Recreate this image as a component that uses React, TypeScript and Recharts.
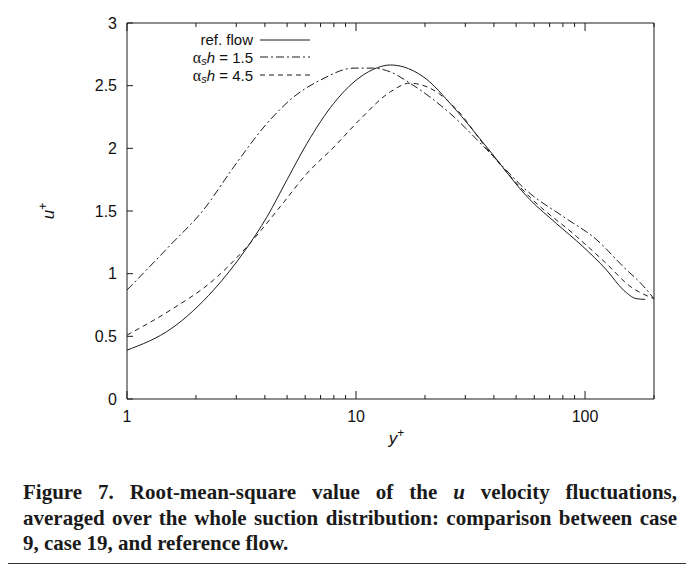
import React from 'react';
import { LineChart, Line, XAxis, YAxis, Legend } from 'recharts';

// y+ positions and u+ values
const refFlowY = [1, 1.57, 2.39, 3.29, 4.09, 5.0, 6.11, 8.0, 9.8, 11.9, 14.1, 16.1, 19.7, 26.6, 37.2, 57.5, 75, 98, 124, 147, 168, 183];
const refFlowU = [0.39, 0.565, 0.87, 1.19, 1.455, 1.75, 2.04, 2.36, 2.53, 2.63, 2.665, 2.65, 2.57, 2.33, 2.01, 1.59, 1.4, 1.215, 1.03, 0.87, 0.8, 0.795];

const alpha15Y = [1, 1.55, 2.16, 2.92, 4.09, 5.34, 7.0, 9.8, 11.9, 14.1, 17.2, 25.7, 37.2, 57.5, 80.4, 112.5, 147, 180, 200];
const alpha15U = [0.87, 1.23, 1.51, 1.85, 2.2, 2.41, 2.545, 2.64, 2.64, 2.61, 2.52, 2.28, 1.99, 1.64, 1.455, 1.27, 1.055, 0.9, 0.8];

const alpha45Y = [1, 1.55, 2.39, 3.34, 4.67, 6.11, 8.0, 10.4, 14.1, 17.2, 21.8, 27.5, 37.2, 57.5, 92, 124, 157, 200];
const alpha45U = [0.51, 0.71, 0.95, 1.215, 1.535, 1.8, 2.01, 2.23, 2.45, 2.52, 2.465, 2.31, 2.0, 1.61, 1.295, 1.08, 0.9, 0.8];

const xTicks = [1, 2, 3, 4, 5, 6, 7, 8, 9, 10, 20, 30, 40, 50, 60, 70, 80, 90, 100, 200];
const majorXTicks = [1, 10, 100];
const yTicks = [0, 0.5, 1, 1.5, 2, 2.5, 3];

const toPoints = (ys: number[], us: number[]) => ys.map((y, i) => ({ x: y, u: us[i] }));
const refFlow = toPoints(refFlowY, refFlowU);
const alpha15 = toPoints(alpha15Y, alpha15U);
const alpha45 = toPoints(alpha45Y, alpha45U);

const INK = '#1c1c1c';
const SANS = '"Liberation Sans", Arial, sans-serif';
const DASH_DOT = '8 3 2 3';
const DASHED = '5 4';

const BottomTick = ({ x, y, payload }: any) => {
  const major = majorXTicks.includes(payload.value);
  return (
    <g>
      <line x1={x} x2={x} y1={y} y2={y - (major ? 8 : 4)} stroke={INK} />
      {major && (
        <text x={x} y={y + 23} textAnchor="middle" fontSize={16} fontFamily={SANS} fill="#111">
          {payload.value}
        </text>
      )}
    </g>
  );
};

const TopTick = ({ x, y, payload }: any) => {
  const major = majorXTicks.includes(payload.value);
  return <line x1={x} x2={x} y1={y} y2={y + (major ? 8 : 4)} stroke={INK} />;
};

const LeftTick = ({ x, y, payload }: any) => (
  <g>
    <line x1={x} x2={x + 6} y1={y} y2={y} stroke={INK} />
    <text x={x - 10} y={y} dy="0.36em" textAnchor="end" fontSize={16} fontFamily={SANS} fill="#111">
      {String(payload.value)}
    </text>
  </g>
);

const RightTick = ({ x, y }: any) => <line x1={x} x2={x - 6} y1={y} y2={y} stroke={INK} />;

const AlphaLabel = ({ x, y, value }: { x: number; y: number; value: string }) => (
  <text x={x} y={y} textAnchor="end" fontSize={15} fontFamily={SANS} fill="#111">
    <tspan fontFamily='"Liberation Serif", serif' fontSize={16}>α</tspan>
    <tspan fontStyle="italic" fontSize={11} dy={2}>s</tspan>
    <tspan fontStyle="italic" dy={-2}>h</tspan>
    <tspan> = {value}</tspan>
  </text>
);

const renderLegend = () => (
  <svg width={190} height={60}>
    <text x={123} y={17} textAnchor="end" fontSize={15} fontFamily={SANS} fill="#111">ref. flow</text>
    <line x1={130} x2={180} y1={12} y2={12} stroke={INK} strokeWidth={1} />
    <AlphaLabel x={123} y={35} value="1.5" />
    <line x1={130} x2={180} y1={29} y2={29} stroke={INK} strokeWidth={1} strokeDasharray={DASH_DOT} />
    <AlphaLabel x={123} y={53} value="4.5" />
    <line x1={130} x2={180} y1={47} y2={47} stroke={INK} strokeWidth={1} strokeDasharray={DASHED} />
  </svg>
);

const XLabel = ({ viewBox }: any) => (
  <text x={viewBox.x + viewBox.width / 2 + 6} y={viewBox.y + 45} textAnchor="middle" fontSize={17} fontFamily={SANS} fill="#111">
    <tspan fontStyle="italic">y</tspan>
    <tspan fontSize={12} dy={-7}>+</tspan>
  </text>
);

const YLabel = ({ viewBox }: any) => {
  const cx = viewBox.x + 46;
  const cy = viewBox.y + viewBox.height / 2;
  return (
    <text x={cx} y={cy} transform={`rotate(-90 ${cx} ${cy})`} textAnchor="middle" fontSize={17} fontFamily={SANS} fill="#111">
      <tspan fontStyle="italic">u</tspan>
      <tspan fontSize={12} dy={-7}>+</tspan>
    </text>
  );
};

const captionStyle: React.CSSProperties = {
  position: 'absolute',
  left: 15,
  top: 472,
  width: 654,
  fontFamily: '"Liberation Serif", "Times New Roman", serif',
  fontWeight: 'bold',
  fontSize: 21,
  lineHeight: '25.5px',
  color: '#1a1a1a',
};

export default function App() {
  return (
    <div
      style={{
        position: 'relative',
        margin: '-1px 0 0 -1px',
        width: 682,
        height: 557,
        border: '1px solid #333',
        boxSizing: 'border-box',
        background: '#fff',
      }}
    >
      <div style={{ position: 'absolute', left: 0, top: 0 }}>
        <LineChart width={680} height={440} margin={{ top: 0, right: 0, bottom: 0, left: 0 }}>
          <XAxis
            xAxisId="bottom"
            type="number"
            dataKey="x"
            scale="log"
            domain={[1, 200]}
            allowDataOverflow
            ticks={xTicks}
            interval={0}
            height={49}
            tickSize={0}
            tickMargin={0}
            tickLine={false}
            tick={<BottomTick />}
            axisLine={{ stroke: INK }}
            label={XLabel}
          />
          <XAxis
            xAxisId="top"
            orientation="top"
            type="number"
            dataKey="x"
            scale="log"
            domain={[1, 200]}
            allowDataOverflow
            ticks={xTicks}
            interval={0}
            height={15}
            tickSize={0}
            tickMargin={0}
            tickLine={false}
            tick={<TopTick />}
            axisLine={{ stroke: INK }}
          />
          <YAxis
            yAxisId="left"
            type="number"
            domain={[0, 3]}
            ticks={yTicks}
            interval={0}
            width={119}
            tickSize={0}
            tickMargin={0}
            tickLine={false}
            tick={<LeftTick />}
            axisLine={{ stroke: INK }}
            label={YLabel}
          />
          <YAxis
            yAxisId="right"
            orientation="right"
            type="number"
            domain={[0, 3]}
            ticks={yTicks}
            interval={0}
            width={34}
            tickSize={0}
            tickMargin={0}
            tickLine={false}
            tick={<RightTick />}
            axisLine={{ stroke: INK }}
          />
          <Legend
            layout="horizontal"
            verticalAlign="middle"
            align="center"
            content={renderLegend}
            wrapperStyle={{ top: 20, left: 122, width: 190, height: 60 }}
          />
          <Line
            xAxisId="bottom"
            yAxisId="left"
            data={refFlow}
            dataKey="u"
            type="monotone"
            stroke={INK}
            strokeWidth={1}
            dot={false}
            isAnimationActive={false}
          />
          <Line
            xAxisId="bottom"
            yAxisId="left"
            data={alpha15}
            dataKey="u"
            type="monotone"
            stroke={INK}
            strokeWidth={1}
            strokeDasharray={DASH_DOT}
            dot={false}
            isAnimationActive={false}
          />
          <Line
            xAxisId="bottom"
            yAxisId="left"
            data={alpha45}
            dataKey="u"
            type="monotone"
            stroke={INK}
            strokeWidth={1}
            strokeDasharray={DASHED}
            dot={false}
            isAnimationActive={false}
          />
        </LineChart>
      </div>
      <div style={captionStyle}>
        <div style={{ textAlign: 'justify', textAlignLast: 'justify' }}>
          Figure 7. Root-mean-square value of the <i>u</i> velocity fluctuations,
        </div>
        <div style={{ textAlign: 'justify', textAlignLast: 'justify' }}>
          averaged over the whole suction distribution: comparison between case
        </div>
        <div>9, case 19, and reference flow.</div>
      </div>
    </div>
  );
}
